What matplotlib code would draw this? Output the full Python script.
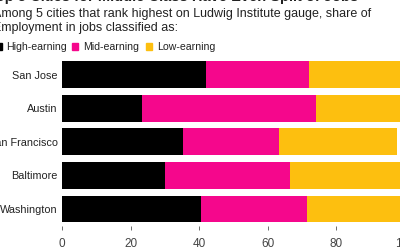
import matplotlib.pyplot as plt
from matplotlib.patches import Rectangle

# Data (shares of employment, %)
cities = ['San Jose', 'Austin', 'San Francisco', 'Baltimore', 'Washington']
high_earning = [42.1, 23.4, 35.4, 30.1, 40.4]
mid_earning = [29.8, 50.6, 27.8, 36.3, 30.9]
low_earning = [28.1, 26.0, 34.5, 33.6, 28.7]
xticks = [0, 20, 40, 60, 80, 100]

colors = {'High-earning': '#000000', 'Mid-earning': '#f5078c', 'Low-earning': '#fdbf0f'}
text_color = '#222222'

plt.rcParams['font.family'] = ['Liberation Sans', 'DejaVu Sans']

fig = plt.figure(figsize=(4, 2.5), dpi=100)
ax = fig.add_axes([0.155, 0.097, 0.8575, 0.672])

y = list(range(len(cities)))
left = [0] * len(cities)
for name, vals in [('High-earning', high_earning), ('Mid-earning', mid_earning), ('Low-earning', low_earning)]:
    ax.barh(y, vals, left=left, height=0.8, color=colors[name], linewidth=0)
    left = [l + v for l, v in zip(left, vals)]

ax.set_xlim(0, 100)
ax.set_ylim(len(cities) - 0.5, -0.5)
ax.set_yticks(y)
ax.set_yticklabels(cities, fontsize=7.8, color=text_color)
ax.set_xticks(xticks)
ax.set_xticklabels([str(t) for t in xticks], fontsize=8.5, color='#444444')
ax.tick_params(axis='y', length=0, pad=3)
ax.tick_params(axis='x', length=3, width=0.6, color='#555555', pad=5.5)
for s in ax.spines.values():
    s.set_visible(False)

# Title (cut off at top in the reference) and subtitle
fig.text(-0.03, 0.996, 'Top 5 Cities for Middle Class Have Even Split of Jobs',
         fontsize=10.5, fontweight='bold', color=text_color, va='baseline')
fig.text(-0.017, 0.945, 'Among 5 cities that rank highest on Ludwig Institute gauge, share of',
         fontsize=9, color=text_color, va='center')
fig.text(-0.017, 0.887, 'Employment in jobs classified as:',
         fontsize=9, color=text_color, va='center')

# Legend row
legend_items = [('High-earning', -0.011), ('Mid-earning', 0.18), ('Low-earning', 0.365)]
for name, x0 in legend_items:
    fig.patches.append(Rectangle((x0, 0.802), 0.016, 0.026, transform=fig.transFigure,
                                 color=colors[name], figure=fig))
    fig.text(x0 + 0.0275, 0.814, name, fontsize=7.6, color=text_color, va='center')

fig.savefig('out.png', dpi=100)
